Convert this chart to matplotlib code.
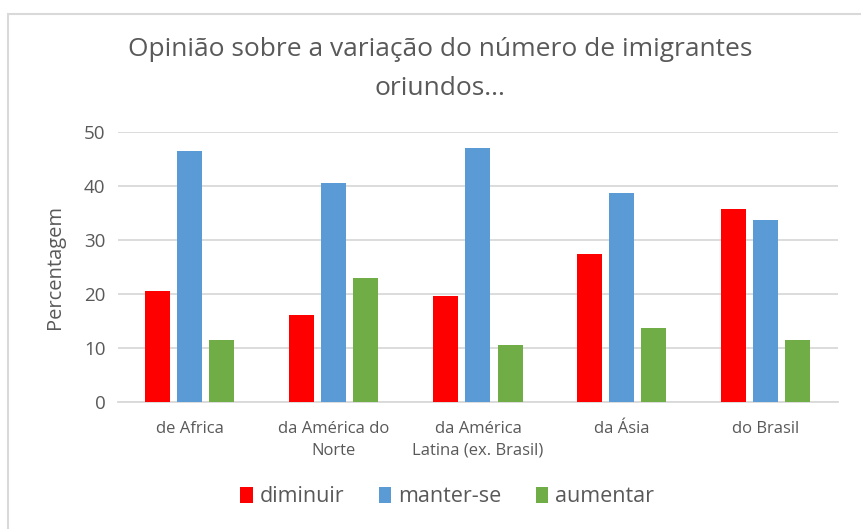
import numpy as np
import matplotlib
matplotlib.use("Agg")
import matplotlib.pyplot as plt
from matplotlib.patches import Rectangle

categorias = ["de Africa", "da América do\nNorte", "da América\nLatina (ex. Brasil)",
              "da Ásia", "do Brasil"]
diminuir = [20.5, 16.0, 19.7, 27.4, 35.8]
manter = [46.5, 40.5, 47.1, 38.8, 33.7]
aumentar = [11.5, 22.9, 10.6, 13.6, 11.5]
series = ["diminuir", "manter-se", "aumentar"]
cores = ["#ff0000", "#5b9bd5", "#70ad47"]
yticks = [0, 10, 20, 30, 40, 50]

plt.rcParams['font.family'] = ['Open Sans', 'DejaVu Sans']
cinza = "#595959"

fig = plt.figure(figsize=(8.62, 5.29), dpi=100)
# moldura do gráfico
fig.patches.append(Rectangle((8.5/862, -0.1), 1.0, (529-14)/529 + 0.1,
                             transform=fig.transFigure, fill=False,
                             edgecolor="#d9d9d9", linewidth=1.5))

ax = fig.add_axes([118/862, (529-401.7)/529, 720/862, (401.7-132.3)/529])

x = np.arange(len(categorias))
w = 25/144
passo = 32/144
for i, (vals, nome) in enumerate(zip([diminuir, manter, aumentar], series)):
    ax.bar(x + (i-1)*passo, vals, width=w, color=cores[i], label=nome, zorder=3)

ax.set_xlim(-0.5, len(categorias)-0.5)
ax.set_ylim(0, 50)
ax.set_yticks(yticks)
ax.grid(axis="y", color="#d9d9d9", linewidth=1.3, zorder=0)
for s in ["top", "right", "left"]:
    ax.spines[s].set_visible(False)
ax.spines["bottom"].set_color("#d9d9d9")
ax.spines["bottom"].set_linewidth(1.3)
ax.tick_params(axis="both", length=0, colors=cinza)
ax.tick_params(axis="y", labelsize=13.5, pad=9)
ax.tick_params(axis="x", labelsize=12, pad=14)
ax.set_xticks(x)
ax.set_xticklabels(categorias, linespacing=1.45)
ax.set_ylabel("Percentagem", fontsize=14.5, color=cinza, labelpad=14)

fig.text(440/862, 1 - 69/529, "Opinião sobre a variação do número de imigrantes\noriundos...",
         ha="center", va="center", fontsize=19, color=cinza, linespacing=1.7)

leg = ax.legend(loc="center", bbox_to_anchor=(447/862, 1 - 497/529), bbox_transform=fig.transFigure,
                ncol=3, frameon=False, fontsize=15.5, handlelength=0.6, handleheight=0.75,
                handletextpad=0.3, columnspacing=1.6)
for t in leg.get_texts():
    t.set_color(cinza)

fig.savefig("out.png", dpi=100)
